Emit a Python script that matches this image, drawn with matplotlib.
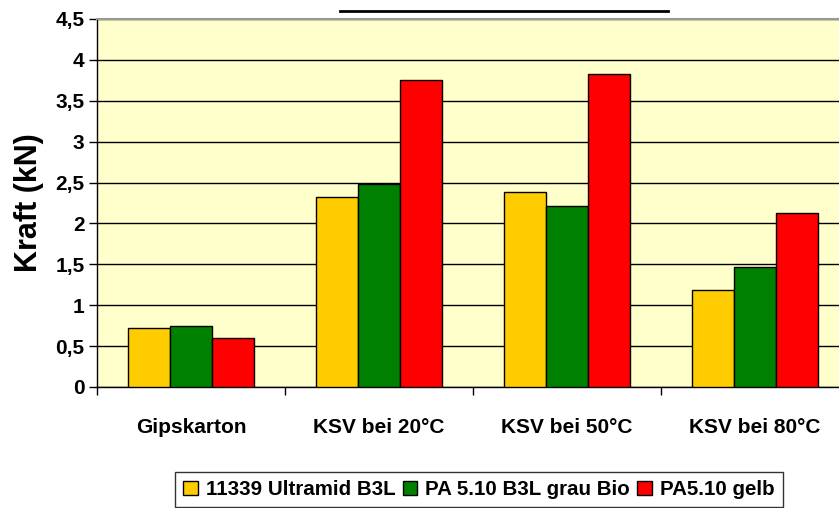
import matplotlib.pyplot as plt
from matplotlib.patches import Patch
from matplotlib.lines import Line2D
import numpy as np

plt.rcParams['font.family'] = ['Liberation Sans', 'DejaVu Sans']
plt.rcParams['font.weight'] = 'bold'

# Kraft-Werte (kN) je Untergrund
categories = ['Gipskarton', 'KSV bei 20°C', 'KSV bei 50°C', 'KSV bei 80°C']
series_names = ['11339 Ultramid B3L', 'PA 5.10 B3L grau Bio', 'PA5.10 gelb']
ultramid = [0.72, 2.32, 2.38, 1.19]
pa510_grau = [0.74, 2.48, 2.21, 1.47]
pa510_gelb = [0.60, 3.75, 3.83, 2.13]
colors = ['#FFCC00', '#008000', '#FF0000']
yticks = [0, 0.5, 1, 1.5, 2, 2.5, 3, 3.5, 4, 4.5]
ytick_labels = ['0', '0,5', '1', '1,5', '2', '2,5', '3', '3,5', '4', '4,5']

W, H = 839, 508
fig = plt.figure(figsize=(W / 100, H / 100), dpi=100)
# axes extends a bit past the right edge like in the original
left, right, top, bottom = 97, 849, 19, 387
ax = fig.add_axes([left / W, 1 - bottom / H, (right - left) / W, (bottom - top) / H])
ax.set_facecolor('#FFFFCC')

x = np.arange(len(categories))
bw = 0.223
for i, (vals, c) in enumerate(zip([ultramid, pa510_grau, pa510_gelb], colors)):
    ax.bar(x + (i - 1) * bw, vals, bw, color=c, edgecolor='black', linewidth=1,
           zorder=3, label=series_names[i])

ax.set_xlim(-0.5, len(categories) - 0.5)
ax.set_ylim(0, 4.5)
ax.set_yticks(yticks)
ax.set_yticklabels(ytick_labels)
ax.yaxis.grid(True, color='black', linewidth=1)
ax.set_axisbelow(True)

ax.set_xticks(np.arange(len(categories) + 1) - 0.5)
ax.set_xticklabels([])
ax.set_xticks(x, minor=True)
ax.set_xticklabels(categories, minor=True)
ax.tick_params(axis='x', which='minor', length=0, pad=22, labelsize=15)
ax.tick_params(axis='x', which='major', length=6, width=1, direction='out')
ax.tick_params(axis='y', length=6, width=1, direction='out', labelsize=15, pad=3)

ax.spines['top'].set_color('#999999')
ax.spines['top'].set_linewidth(1.5)
ax.spines['right'].set_visible(False)
ax.spines['left'].set_linewidth(1)
ax.spines['bottom'].set_linewidth(1)

ax.set_ylabel('Kraft (kN)', fontsize=22, fontweight='bold', labelpad=8)

# Linie oberhalb des Diagramms
fig.add_artist(Line2D([340 / W, 668 / W], [1 - 11 / H, 1 - 11 / H], color='black', linewidth=2))

handles = [Patch(facecolor=c, edgecolor='black', linewidth=1) for c in colors]
leg = fig.legend(handles, series_names, loc='upper left', bbox_to_anchor=(175 / W, 1 - 472 / H),
                 ncol=3, frameon=True, fancybox=False, fontsize=14.8, handlelength=0.7,
                 handleheight=0.7, handletextpad=0.4, columnspacing=0.35, borderpad=0.4,
                 borderaxespad=0)
leg.get_frame().set_edgecolor('black')
leg.get_frame().set_linewidth(1)

fig.savefig('out.png', dpi=100)
